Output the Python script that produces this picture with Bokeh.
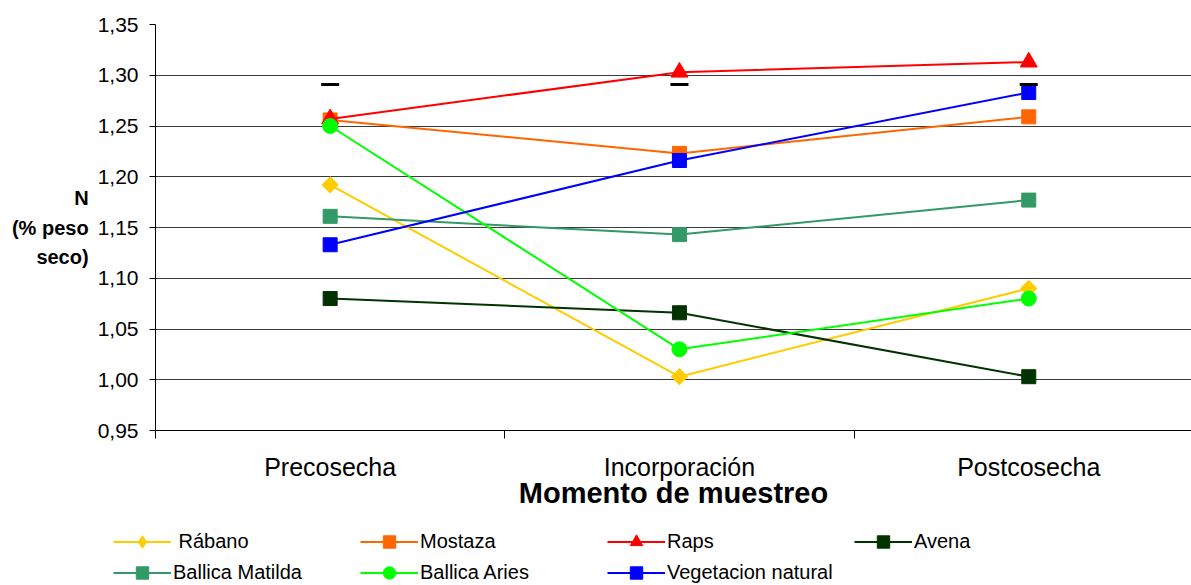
import math
from bokeh.plotting import figure
from bokeh.layouts import column
from bokeh.models import (Range1d, FixedTicker, CustomJSTickFormatter, Legend,
                          LegendItem)
from bokeh.embed import file_html
from bokeh.resources import INLINE

# Sampling moments (x categories)
momentos = ["Precosecha", "Incorporación", "Postcosecha"]

# N content (% dry weight) per cover crop
rabano = [1.192, 1.003, 1.090]
mostaza = [1.256, 1.223, 1.259]
raps = [1.257, 1.303, 1.313]
avena = [1.080, 1.066, 1.003]
ballica_matilda = [1.161, 1.143, 1.177]
ballica_aries = [1.250, 1.030, 1.080]
vegetacion_natural = [1.133, 1.216, 1.283]

# Small black caps drawn near the top
cotas = [1.291, 1.291, 1.291]

y_ticks = [0.95, 1.00, 1.05, 1.10, 1.15, 1.20, 1.25, 1.30, 1.35]

FONT = "Liberation Sans"
xs = [0.5, 1.5, 2.5]

p = figure(width=1191, height=525, output_backend="svg", toolbar_location=None,
           x_range=Range1d(0, 1036 / 349.3), y_range=Range1d(0.95, 1.35),
           min_border_left=155, min_border_right=0, min_border_top=24,
           min_border_bottom=95)
p.outline_line_color = None
p.background_fill_color = "white"
p.border_fill_color = "white"
p.frame_align = False

# Axes
p.xaxis.ticker = FixedTicker(ticks=xs, minor_ticks=[0, 1, 2, 3])
p.xaxis.formatter = CustomJSTickFormatter(args=dict(labels=momentos),
                                          code="return labels[Math.floor(tick)];")
p.xaxis.major_tick_line_color = None
p.xaxis.major_tick_out = 0
p.xaxis.major_tick_in = 0
p.xaxis.minor_tick_line_color = "black"
p.xaxis.minor_tick_out = 8
p.xaxis.minor_tick_in = 0
p.xaxis.axis_line_color = "black"
p.xaxis.major_label_text_font = FONT
p.xaxis.major_label_text_font_size = "25px"
p.xaxis.major_label_text_color = "black"
p.xaxis.major_label_standoff = 14
p.xaxis.axis_label = "Momento de muestreo"
p.xaxis.axis_label_text_font = FONT
p.xaxis.axis_label_text_font_size = "29px"
p.xaxis.axis_label_text_font_style = "bold"
p.xaxis.axis_label_text_color = "black"
p.xaxis.axis_label_standoff = -7

p.yaxis.ticker = FixedTicker(ticks=y_ticks)
p.yaxis.formatter = CustomJSTickFormatter(code="return tick.toFixed(2).replace('.', ',');")
p.yaxis.minor_tick_line_color = None
p.yaxis.major_tick_line_color = "black"
p.yaxis.major_tick_out = 6
p.yaxis.major_tick_in = 0
p.yaxis.axis_line_color = "black"
p.yaxis.major_label_text_font = FONT
p.yaxis.major_label_text_font_size = "21px"
p.yaxis.major_label_text_color = "black"
p.yaxis.major_label_standoff = 11

# Y axis title, horizontal on three lines
p.yaxis.axis_label = "N\n(% peso\nseco)"
p.yaxis.axis_label_text_font = FONT
p.yaxis.axis_label_text_font_size = "20px"
p.yaxis.axis_label_text_font_style = "bold"
p.yaxis.axis_label_text_color = "black"
p.yaxis.axis_label_text_align = "center"
p.yaxis.axis_label_text_line_height = 1.35
p.yaxis.axis_label_standoff = 6
p.yaxis.axis_label_orientation = "horizontal"

p.xgrid.grid_line_color = None
p.ygrid.ticker = FixedTicker(ticks=y_ticks)
p.ygrid.grid_line_color = "#3a3a3a"
p.ygrid.grid_line_width = 1

# name, values, colour, marker, size, marker angle, legend marker, legend size
series = [
    (" Rábano", rabano, "#FFCC00", "square", 11.5, math.pi / 4, "diamond", 17),
    ("Mostaza", mostaza, "#FF6600", "square", 14, 0, "square", 14),
    ("Raps", raps, "#FF0000", "triangle", 17, 0, "triangle", 17),
    ("Avena", avena, "#003300", "square", 14, 0, "square", 14),
    ("Ballica Matilda", ballica_matilda, "#339966", "square", 14, 0, "square", 14),
    ("Ballica Aries", ballica_aries, "#00FF00", "circle", 15, 0, "circle", 15),
    ("Vegetacion natural", vegetacion_natural, "#0000FF", "square", 14, 0, "square", 14),
]

# Legend lives in its own strip below the chart; its view window is set
# away from the data so only the legend entries show there.
leg = figure(width=1191, height=60, output_backend="svg", toolbar_location=None,
             x_range=Range1d(0, 1), y_range=Range1d(-1, 0),
             x_axis_type=None, y_axis_type=None,
             min_border=0, min_border_left=0, min_border_right=0,
             min_border_top=0, min_border_bottom=0)
leg.outline_line_color = None
leg.xgrid.visible = False
leg.ygrid.visible = False
leg.frame_align = False

items = []
for name, vals, color, marker, size, ang, lmarker, lsize in series:
    p.line(xs, vals, line_color=color, line_width=2)
    p.scatter(xs, vals, marker=marker, size=size, angle=ang, fill_color=color,
              line_color=color)
    ln = leg.line(xs, vals, line_color=color, line_width=2)
    sc = leg.scatter(xs, vals, marker=lmarker, size=lsize,
                     fill_color=color, line_color=color)
    items.append(LegendItem(label=name, renderers=[ln, sc]))

p.scatter(xs, cotas, marker="dash", size=18, line_color="black", line_width=3)

legend = Legend(items=items, location=(113, -3), orientation="horizontal",
                ncols=4, glyph_width=58, glyph_height=31, label_standoff=2,
                label_width=187, spacing=0, padding=0, margin=0,
                label_text_font=FONT, label_text_font_size="20px",
                label_text_color="black", border_line_color=None,
                background_fill_alpha=0)
leg.add_layout(legend, "center")

layout = column(p, leg, spacing=0)
open("out.html", "w").write(file_html(layout, INLINE))
